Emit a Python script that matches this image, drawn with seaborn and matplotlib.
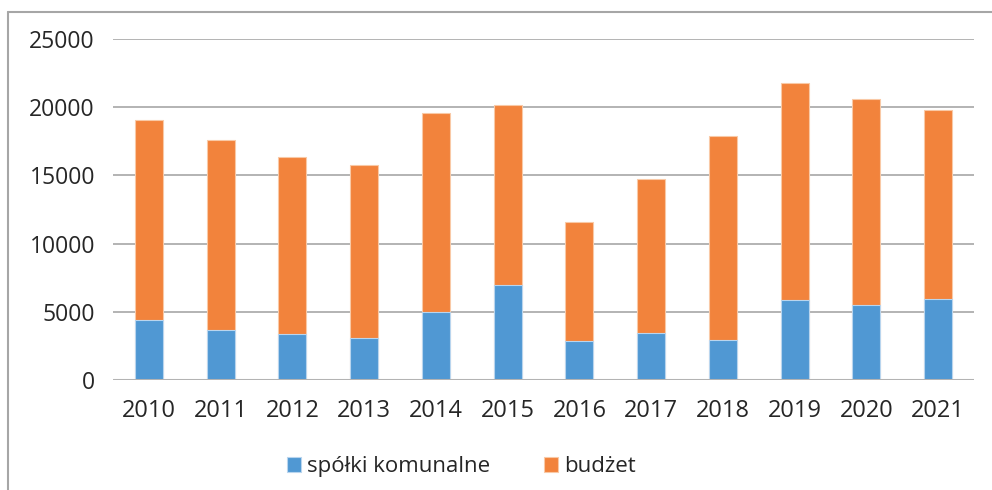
"""Stacked bars: spółki komunalne + budżet, 2010-2021."""
import matplotlib
matplotlib.use("Agg")
import matplotlib.pyplot as plt
from matplotlib.lines import Line2D
import seaborn as sns
import pandas as pd

years = ["2010", "2011", "2012", "2013", "2014", "2015",
         "2016", "2017", "2018", "2019", "2020", "2021"]
spolki = [4410, 3670, 3320, 3080, 5000, 6980, 2810, 3430, 2880, 5860, 5490, 5910]
budzet = [14690, 13950, 13040, 12690, 14610, 13200, 8790, 11320, 15060, 15960, 15100, 13900]
y_ticks = [0, 5000, 10000, 15000, 20000, 25000]

BLUE = "#5098d3"
ORANGE = "#f2833c"
TEXT = "#262626"
GRID = "#b3b3b3"

sns.set_theme(style="white")
plt.rcParams["font.family"] = ["Open Sans", "DejaVu Sans"]

df = pd.DataFrame({"rok": years, "spolki": spolki, "budzet": budzet})
df["razem"] = df["spolki"] + df["budzet"]

fig = plt.figure(figsize=(9.92, 4.9), dpi=100)
ax = fig.add_axes([0.1139, 0.2255, 0.868, 0.6939])

# stacked via overlay: total first, then the bottom part
sns.barplot(data=df, x="rok", y="razem", color=ORANGE, saturation=1, width=0.39,
            edgecolor="#f9c9a6", linewidth=0.8, label="budżet", ax=ax, zorder=3)
sns.barplot(data=df, x="rok", y="spolki", color=BLUE, saturation=1, width=0.39,
            edgecolor="#b9d5ee", linewidth=0.8, label="spółki komunalne", ax=ax, zorder=4)

ax.set_ylim(0, 25000)
ax.set_yticks(y_ticks)
ax.set_xlim(-0.5, len(years) - 0.5)
ax.set_xlabel("")
ax.set_ylabel("")
for s in ax.spines.values():
    s.set_visible(False)
for t in y_ticks[1:]:
    ax.axhline(t, color=GRID, lw=1.4, zorder=1)
ax.axhline(0, color=GRID, lw=2.2, zorder=5)
ax.tick_params(axis="y", length=0, pad=13, labelsize=16.5, labelcolor=TEXT)
ax.tick_params(axis="x", length=0, pad=14, labelsize=17, labelcolor=TEXT)

if ax.get_legend() is not None:
    ax.get_legend().remove()
handles, labels = ax.get_legend_handles_labels()
order = [labels.index("spółki komunalne"), labels.index("budżet")]
fig.legend([handles[i] for i in order], [labels[i] for i in order],
           loc="center", bbox_to_anchor=(0.465, 0.047), ncol=2, frameon=False,
           fontsize=16, handlelength=0.65, handleheight=0.65, handletextpad=0.28,
           columnspacing=2.4, labelcolor=TEXT)

# outer frame of the original figure (only top and left visible)
fig.add_artist(Line2D([8 / 992, 1.0], [1 - 12.5 / 490, 1 - 12.5 / 490],
                      transform=fig.transFigure, color="#a6a6a6", lw=1.5))
fig.add_artist(Line2D([8 / 992, 8 / 992], [0.0, 1 - 12.5 / 490],
                      transform=fig.transFigure, color="#a6a6a6", lw=1.5))

fig.savefig("out.png", dpi=100)
plt.close(fig)
